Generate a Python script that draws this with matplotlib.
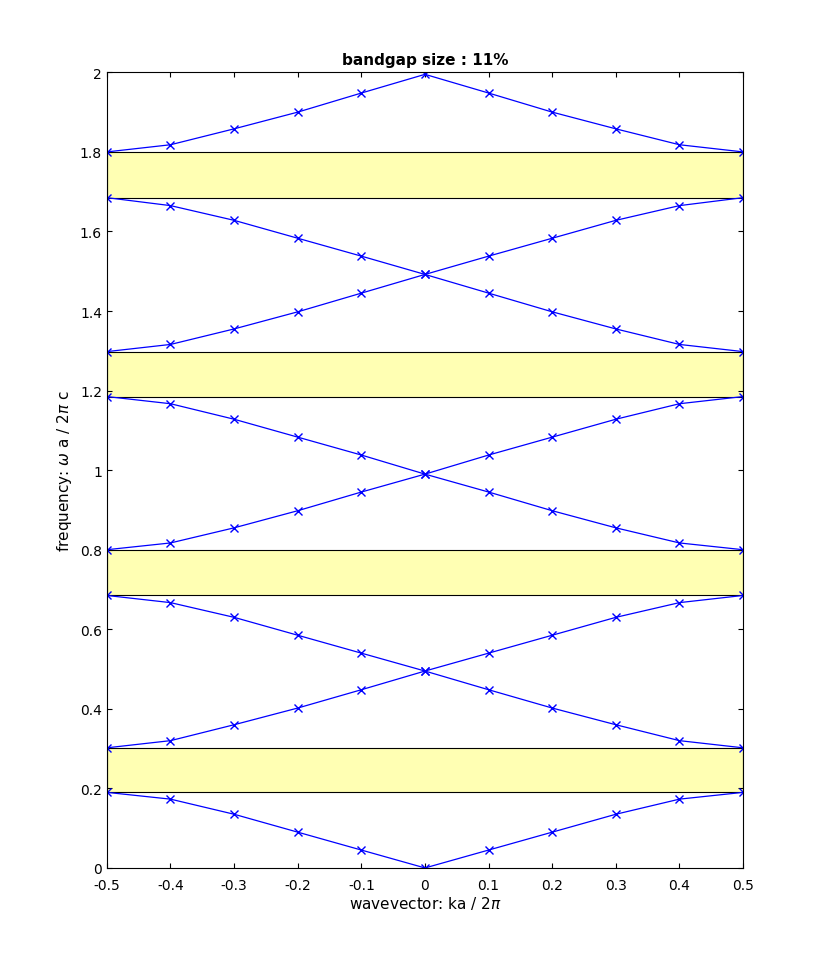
import numpy as np
import matplotlib.pyplot as plt

k = [-0.5, -0.4, -0.3, -0.2, -0.1, 0.0, 0.1, 0.2, 0.3, 0.4, 0.5]

# half bands from k=-0.5 to 0, mirrored
half_bands = [
    [0.190, 0.173, 0.135, 0.090, 0.045, 0.000],
    [0.302, 0.320, 0.360, 0.402, 0.448, 0.495],
    [0.685, 0.667, 0.630, 0.585, 0.540, 0.495],
    [0.800, 0.817, 0.855, 0.898, 0.945, 0.990],
    [1.185, 1.167, 1.128, 1.083, 1.038, 0.990],
    [1.298, 1.316, 1.355, 1.398, 1.445, 1.492],
    [1.685, 1.665, 1.628, 1.583, 1.538, 1.492],
    [1.800, 1.818, 1.858, 1.900, 1.948, 1.995],
]
gaps = [(0.190, 0.302), (0.685, 0.800), (1.185, 1.298), (1.685, 1.800)]

fig = plt.figure(figsize=(8.22, 9.78), dpi=100)
ax = fig.add_axes([0.130, 0.1115, 0.774, 0.8135])

for lo, hi in gaps:
    ax.fill_between([-0.5, 0.5], lo, hi, facecolor=(1, 1, 0.7), edgecolor='black', linewidth=0.8, zorder=1)

for hb in half_bands:
    w = hb + hb[-2::-1]
    ax.plot(k, w, color='blue', marker='x', linewidth=0.9, markersize=6, zorder=2)

ax.set_xlim(-0.5, 0.5)
ax.set_ylim(0, 2)
ax.set_xticks(np.round(np.arange(-0.5, 0.51, 0.1), 1))
ax.set_xticklabels(['-0.5', '-0.4', '-0.3', '-0.2', '-0.1', '0', '0.1', '0.2', '0.3', '0.4', '0.5'])
ax.set_yticks(np.round(np.arange(0, 2.01, 0.2), 1))
ax.set_yticklabels(['0', '0.2', '0.4', '0.6', '0.8', '1', '1.2', '1.4', '1.6', '1.8', '2'])
ax.tick_params(direction='in', top=True, right=True, labelsize=10)
ax.tick_params(axis='x', pad=7)
ax.set_xlabel(r'wavevector: ka / 2$\pi$', fontsize=11, labelpad=2)
ax.set_ylabel(r'frequency: $\omega$ a / 2$\pi$ c', fontsize=11)
ax.set_title('bandgap size : 11%', fontsize=11, fontweight='bold')

fig.savefig('out.png', dpi=100)
